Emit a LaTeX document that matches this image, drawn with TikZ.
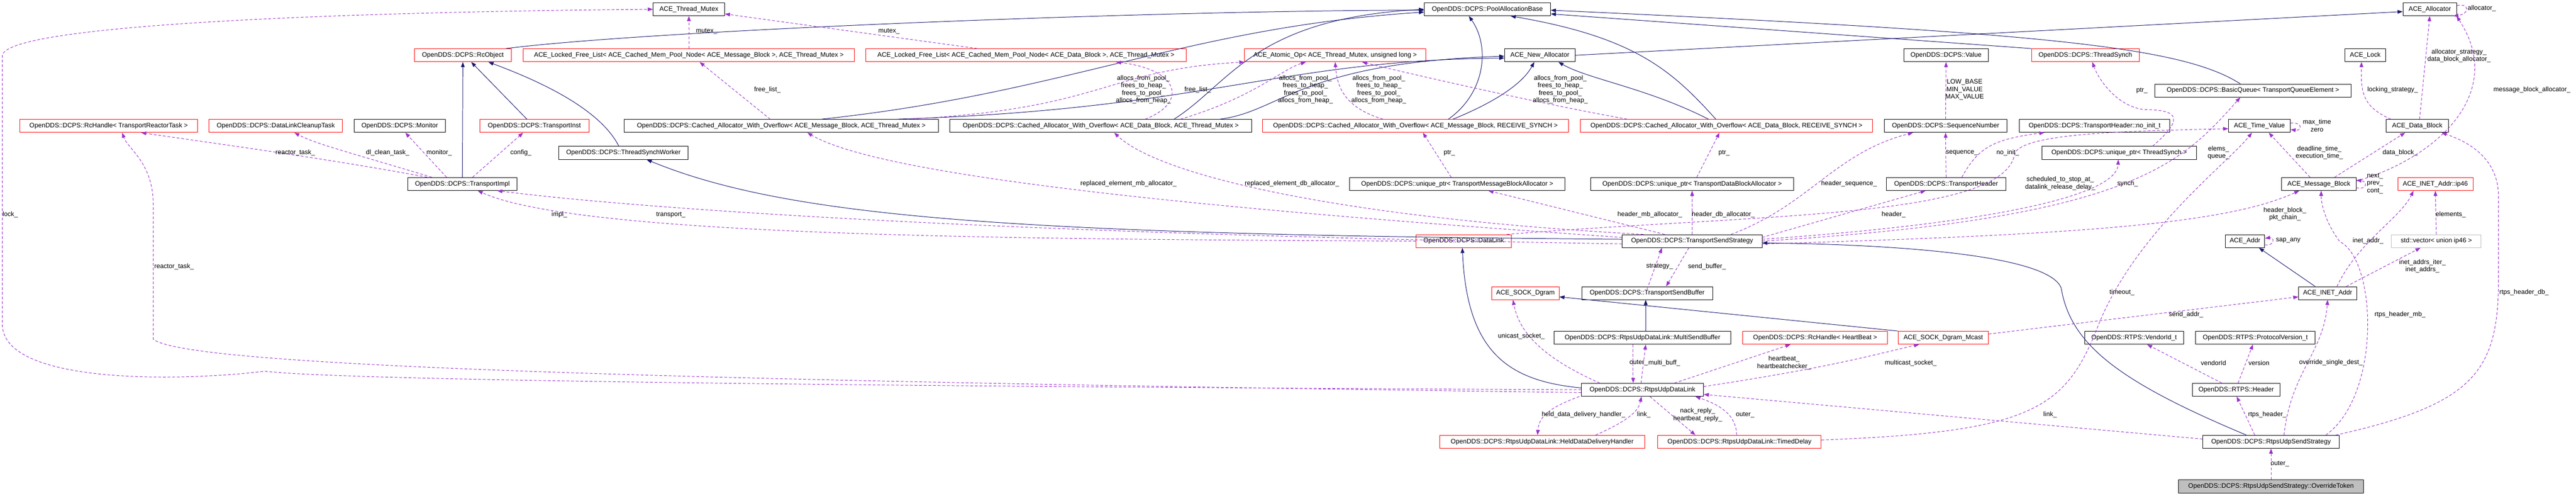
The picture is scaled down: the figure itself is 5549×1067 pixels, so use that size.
\documentclass[tikz,border=0pt]{standalone}
\usepackage{fontspec}
\setmainfont{Liberation Sans}
\usetikzlibrary{arrows.meta}
\definecolor{inhcol}{HTML}{191970}
\definecolor{usecol}{HTML}{9A32CD}
\tikzset{
box/.style={
  draw=black,
  line width=1pt,
  fill=white,
  minimum width=#1,
  minimum height=28pt,
  inner sep=1pt,
  font=\fontsize{14}{16}\selectfont
},
redbox/.style={box=#1, draw=red},
graybox/.style={box=#1, draw=gray!50},
filledbox/.style={box=#1, fill=gray!50},
inh/.style={draw=inhcol, line width=1.1pt, -{Triangle[length=11pt,width=8pt]}},
use/.style={draw=usecol, line width=1.1pt, dash pattern=on 6pt off 4pt, -{Triangle[length=11pt,width=8pt]}},
lbl/.style={font=\fontsize{14}{16}\selectfont, inner sep=0pt, align=center, text=black}
}
\begin{document}
\begin{tikzpicture}[x=1pt,y=-1pt]
\useasboundingbox (0,0) rectangle (5549,1067);
                  % row 0
\node[box=154pt] (ATM) at (1484,20) {ACE\_Thread\_Mutex};
\node[box=272pt] (PAB) at (3204,20) {OpenDDS::DCPS::PoolAllocationBase};
\node[box=116pt] (AAlloc) at (5234,20) {ACE\_Allocator};
                  % row 1
\node[redbox=208pt] (RcObj) at (997,119) {OpenDDS::DCPS::RcObject};
\node[redbox=714pt] (LFLmb) at (1484,119) {ACE\_Locked\_Free\_List< ACE\_Cached\_Mem\_Pool\_Node< ACE\_Message\_Block >, ACE\_Thread\_Mutex >};
\node[redbox=691pt] (LFLdb) at (2210,119) {ACE\_Locked\_Free\_List< ACE\_Cached\_Mem\_Pool\_Node< ACE\_Data\_Block >, ACE\_Thread\_Mutex >};
\node[redbox=390pt] (AtomOp) at (2876,119) {ACE\_Atomic\_Op< ACE\_Thread\_Mutex, unsigned long >};
\node[box=152pt] (NewAlloc) at (3317,119) {ACE\_New\_Allocator};
\node[box=182pt] (Value) at (4192,119) {OpenDDS::DCPS::Value};
\node[redbox=232pt] (TSynch) at (4492,119) {OpenDDS::DCPS::ThreadSynch};
\node[box=87pt] (ALock) at (5095,119) {ACE\_Lock};
                  % row 2
\node[box=423pt] (BQueue) at (4853,195) {OpenDDS::DCPS::BasicQueue< TransportQueueElement >};
                  % row 3
\node[redbox=383pt] (RHtask) at (234,271) {OpenDDS::DCPS::RcHandle< TransportReactorTask >};
\node[redbox=287pt] (DLclean) at (594,271) {OpenDDS::DCPS::DataLinkCleanupTask};
\node[box=196pt] (Monitor) at (861,271) {OpenDDS::DCPS::Monitor};
\node[redbox=235pt] (TInst) at (1151,271) {OpenDDS::DCPS::TransportInst};
\node[box=676pt] (CAmbTM) at (1683,271) {OpenDDS::DCPS::Cached\_Allocator\_With\_Overflow< ACE\_Message\_Block, ACE\_Thread\_Mutex >};
\node[box=650pt] (CAdbTM) at (2371,271) {OpenDDS::DCPS::Cached\_Allocator\_With\_Overflow< ACE\_Data\_Block, ACE\_Thread\_Mutex >};
\node[redbox=659pt] (CAmbRS) at (3049,271) {OpenDDS::DCPS::Cached\_Allocator\_With\_Overflow< ACE\_Message\_Block, RECEIVE\_SYNCH >};
\node[redbox=630pt] (CAdbRS) at (3719,271) {OpenDDS::DCPS::Cached\_Allocator\_With\_Overflow< ACE\_Data\_Block, RECEIVE\_SYNCH >};
\node[box=265pt] (SeqNum) at (4191,271) {OpenDDS::DCPS::SequenceNumber};
\node[box=324pt] (NoInit) at (4512,271) {OpenDDS::DCPS::TransportHeader::no\_init\_t};
\node[box=133pt] (TimeVal) at (4867,271) {ACE\_Time\_Value};
\node[box=134pt] (DBlock) at (5207,271) {ACE\_Data\_Block};
                  % row 4
\node[box=279pt] (TSWorker) at (1343,329) {OpenDDS::DCPS::ThreadSynchWorker};
\node[box=333pt] (UPsynch) at (4565,329) {OpenDDS::DCPS::unique\_ptr< ThreadSynch >};
                  % row 5
\node[box=235pt] (TImpl) at (996,396) {OpenDDS::DCPS::TransportImpl};
\node[box=463pt] (UPmb) at (3139,396) {OpenDDS::DCPS::unique\_ptr< TransportMessageBlockAllocator >};
\node[box=437pt] (UPdb) at (3645,396) {OpenDDS::DCPS::unique\_ptr< TransportDataBlockAllocator >};
\node[box=258pt] (THeader) at (4192,396) {OpenDDS::DCPS::TransportHeader};
\node[box=160pt] (MBlock) at (4995,396) {ACE\_Message\_Block};
\node[redbox=162pt] (Ip46) at (5246,396) {ACE\_INET\_Addr::ip46};
                  % row 6
\node[redbox=205pt] (DLink) at (3153,519) {OpenDDS::DCPS::DataLink};
\node[box=301pt] (TSS) at (3645,519) {OpenDDS::DCPS::TransportSendStrategy};
\node[box=85pt] (AAddr) at (4836,519) {ACE\_Addr};
\node[graybox=193pt] (Vec) at (5248,519) {std::vector< union ip46 >};
                  % row 7
\node[redbox=145pt] (Dgram) at (3286,631) {ACE\_SOCK\_Dgram};
\node[box=282pt] (TSB) at (3548,631) {OpenDDS::DCPS::TransportSendBuffer};
\node[box=125pt] (Inet) at (5014,631) {ACE\_INET\_Addr};
                  % row 8
\node[box=381pt] (MSB) at (3538,727) {OpenDDS::DCPS::RtpsUdpDataLink::MultiSendBuffer};
\node[redbox=312pt] (RHhb) at (3910,727) {OpenDDS::DCPS::RcHandle< HeartBeat >};
\node[redbox=195pt] (Mcast) at (4186,727) {ACE\_SOCK\_Dgram\_Mcast};
\node[box=213pt] (Vendor) at (4597,727) {OpenDDS::RTPS::VendorId\_t};
\node[box=258pt] (ProtoV) at (4858,727) {OpenDDS::RTPS::ProtocolVersion\_t};
                  % row 9
\node[box=263pt] (RUDL) at (3538,839) {OpenDDS::DCPS::RtpsUdpDataLink};
\node[box=188pt] (RHeader) at (4817,839) {OpenDDS::RTPS::Header};
                  % row 10
\node[redbox=441pt] (HDDH) at (3322,951) {OpenDDS::DCPS::RtpsUdpDataLink::HeldDataDeliveryHandler};
\node[redbox=352pt] (TDelay) at (3747,951) {OpenDDS::DCPS::RtpsUdpDataLink::TimedDelay};
\node[box=294pt] (RUSS) at (4892,951) {OpenDDS::DCPS::RtpsUdpSendStrategy};
                  % row 11
\node[filledbox=398pt] (OTok) at (4892,1047) {OpenDDS::DCPS::RtpsUdpSendStrategy::OverrideToken};

                  % inheritance
\draw[inh] ([xshift=93pt]RcObj.north) .. controls (1400,65) and (2500,22) .. ([yshift=-2pt]PAB.west);
\draw[inh] (TImpl.north) -- (RcObj.south);
\draw[inh] ([xshift=-16pt]TInst.north) -- ([xshift=18pt]RcObj.south);
\draw[inh] ([xshift=-10pt]TSWorker.north) .. controls (1290,230) and (1150,170) .. ([xshift=55pt]RcObj.south);
\draw[inh] ([xshift=87pt]CAmbTM.north) .. controls (2300,200) and (2550,60) .. ([yshift=-6pt]PAB.west);
\draw[inh] ([xshift=250pt]CAmbTM.north) .. controls (2600,235) and (2750,130) .. ([yshift=-6pt]NewAlloc.west);
\draw[inh] ([xshift=158pt]CAdbTM.north) .. controls (2650,180) and (2700,40) .. ([yshift=0pt]PAB.west);
\draw[inh] ([xshift=257pt]CAdbTM.north) .. controls (2760,240) and (2800,135) .. ([yshift=-2pt]NewAlloc.west);
\draw[inh] ([xshift=71pt]CAmbRS.north) .. controls (3200,200) and (3210,100) .. ([xshift=-40pt]PAB.south);
\draw[inh] ([xshift=81pt]CAmbRS.north) .. controls (3220,220) and (3280,180) .. ([xshift=-12pt]NewAlloc.south);
\draw[inh] ([xshift=-23pt]CAdbRS.north) .. controls (3600,150) and (3520,80) .. ([xshift=50pt]PAB.south);
\draw[inh] ([xshift=-39pt]CAdbRS.north) .. controls (3550,190) and (3420,170) .. ([xshift=40pt]NewAlloc.south);
\draw[inh] (NewAlloc.east) -- ([yshift=-5pt]AAlloc.west);
\draw[inh] (TSynch.north west) -- ([yshift=-10pt]PAB.east);
\draw[inh] ([xshift=-27pt]BQueue.north) .. controls (4700,100) and (4400,70) .. ([yshift=-2pt]PAB.east);
\draw[inh] ([yshift=4pt]TSS.west) .. controls (2200,505) and (1700,470) .. ([xshift=50pt]TSWorker.south);
\draw[inh] ([yshift=4pt]RUDL.west) .. controls (3250,820) and (3160,760) .. ([xshift=-3pt]DLink.south);
\draw[inh] ([xshift=-53pt]RUSS.north) .. controls (4560,820) and (4460,740) .. (4440,620) .. controls (4410,540) and (4000,525) .. ([yshift=-4pt]TSS.east);
\draw[inh] ([xshift=7pt]MSB.north) -- ([xshift=-3pt]TSB.south);
\draw[inh] (Mcast.north west) -- ([yshift=-8pt]Dgram.east);
\draw[inh] ([xshift=-27pt]Inet.north) -- ([xshift=30pt]AAddr.south);

                  % members: allocators
\draw[use] (LFLmb.north) -- (ATM.south) node[lbl, at={(1522,67)}] {mutex\_};
\draw[use] ([xshift=-105pt]LFLdb.north) -- ([yshift=-10pt]ATM.east) node[lbl, at={(1915,67)}] {mutex\_};
\draw[use] ([xshift=-24pt]CAmbTM.north) -- ([xshift=23pt]LFLmb.south) node[lbl, at={(1653,193)}] {free\_list\_};
\draw[use] ([xshift=96pt]CAdbTM.north) .. controls (2560,220) and (2540,150) .. ([xshift=194pt]LFLdb.south) node[lbl, at={(2580,193)}] {free\_list\_};
\draw[use] ([xshift=271pt]CAmbTM.north) .. controls (2380,235) and (2380,150) .. (AtomOp.south west) node[lbl, at={(2463,193)}] {allocs\_from\_pool\_\\frees\_to\_heap\_\\frees\_to\_pool\_\\allocs\_from\_heap\_};
\draw[use] ([xshift=172pt]CAdbTM.north) .. controls (2700,210) and (2760,150) .. ([xshift=-63pt]AtomOp.south) node[lbl, at={(2812,193)}] {allocs\_from\_pool\_\\frees\_to\_heap\_\\frees\_to\_pool\_\\allocs\_from\_heap\_};
\draw[use] ([xshift=-70pt]CAmbRS.north) .. controls (2890,230) and (2880,180) .. (AtomOp.south) node[lbl, at={(2970,193)}] {allocs\_from\_pool\_\\frees\_to\_heap\_\\frees\_to\_pool\_\\allocs\_from\_heap\_};
\draw[use] ([xshift=-214pt]CAdbRS.north) .. controls (3300,220) and (3000,150) .. ([xshift=58pt]AtomOp.south) node[lbl, at={(3361,193)}] {allocs\_from\_pool\_\\frees\_to\_heap\_\\frees\_to\_pool\_\\allocs\_from\_heap\_};
\draw[use] ([xshift=-13pt]UPmb.north) -- ([xshift=16pt]CAmbRS.south) node[lbl, at={(3122,329)}] {ptr\_};
\draw[use] ([xshift=10pt]UPdb.north) -- ([xshift=-15pt]CAdbRS.south) node[lbl, at={(3714,329)}] {ptr\_};

                  % members: transport
\draw[use] ([xshift=-76pt]TImpl.north) .. controls (700,340) and (400,300) .. ([xshift=70pt]RHtask.south) node[lbl, at={(636,329)}] {reactor\_task\_};
\draw[use] ([xshift=-66pt]TImpl.north) .. controls (760,330) and (680,310) .. ([xshift=40pt]DLclean.south) node[lbl, at={(835,329)}] {dl\_clean\_task\_};
\draw[use] ([xshift=-34pt]TImpl.north) -- ([xshift=12pt]Monitor.south) node[lbl, at={(946,329)}] {monitor\_};
\draw[use] ([xshift=22pt]TImpl.north) -- ([xshift=-24pt]TInst.south) node[lbl, at={(1122,329)}] {config\_};
\draw[use] (DLink.west) .. controls (2200,515) and (1250,510) .. ([xshift=33pt]TImpl.south) node[lbl, at={(1205,462)}] {impl\_};
\draw[use] ([yshift=-6pt]TSS.west) .. controls (2000,500) and (1300,440) .. ([xshift=75pt]TImpl.south) node[lbl, at={(1445,462)}] {transport\_};
\draw[use] ([yshift=8pt]TSS.west) .. controls (2600,450) and (1900,380) .. ([xshift=56pt]CAmbTM.south) node[lbl, at={(2431,395)}] {replaced\_element\_mb\_allocator\_};
\draw[use] ([xshift=-105pt]TSS.north) .. controls (2900,470) and (2500,380) .. ([xshift=29pt]CAdbTM.south) node[lbl, at={(2783,395)}] {replaced\_element\_db\_allocator\_};
\draw[use] ([xshift=-59pt]TSS.north) -- ([xshift=67pt]UPmb.south) node[lbl, at={(3554,462)}] {header\_mb\_allocator\_};
\draw[use] (TSS.north) -- (UPdb.south) node[lbl, at={(3712,462)}] {header\_db\_allocator\_};
\draw[use] ([xshift=84pt]TSS.north) .. controls (3900,440) and (3950,330) .. ([xshift=-70pt]SeqNum.south) node[lbl, at={(3983,395)}] {header\_sequence\_};
\draw[use] ([yshift=8pt]TSS.east) -- ([xshift=-44pt]THeader.south) node[lbl, at={(4079,462)}] {header\_};
\draw[use] ([yshift=4pt]TSS.east) .. controls (4300,480) and (4560,420) .. ([xshift=-2pt]UPsynch.south) node[lbl, at={(4583,395)}] {synch\_};
\draw[use] (TSS.east) .. controls (4600,470) and (4700,350) .. ([xshift=-27pt]BQueue.south) node[lbl, at={(4779,329)}] {elems\_\\queue\_};
\draw[use] ([yshift=-6pt]TSS.east) .. controls (4500,505) and (4800,480) .. ([xshift=-42pt]MBlock.south) node[lbl, at={(4922,461)}] {header\_block\_\\pkt\_chain\_};
\draw[use] ([xshift=-10pt]DLink.north east) .. controls (3800,460) and (4320,470) .. (4340,330) .. controls (4360,285) and (4600,282) .. ([yshift=-6pt]TimeVal.west) node[lbl, at={(4438,395)}] {scheduled\_to\_stop\_at\_\\datalink\_release\_delay\_};
\draw[use] (SeqNum.north) -- (Value.south) node[lbl, at={(4232,193)}] {LOW\_BASE\\MIN\_VALUE\\MAX\_VALUE};
\draw[use] (THeader.north) -- (SeqNum.south) node[lbl, at={(4226,329)}] {sequence\_};
\draw[use] ([xshift=34pt]THeader.north) .. controls (4260,320) and (4290,300) .. ([xshift=-108pt]NoInit.south) node[lbl, at={(4325,329)}] {no\_init\_};
\draw[use] ([xshift=72pt]UPsynch.north) .. controls (4700,260) and (4700,236) .. (4620,236) .. controls (4560,230) and (4520,170) .. ([xshift=15pt]TSynch.south) node[lbl, at={(4614,195)}] {ptr\_};

                  % members: ACE
\draw[use] ([yshift=6pt]TimeVal.east) .. controls (4960,262) and (4960,282) .. ([yshift=-8pt]TimeVal.east) node[lbl, at={(4991,270)}] {max\_time\\zero};
\draw[use] ([yshift=8pt]AAlloc.east) .. controls (5320,6) and (5320,30) .. ([xshift=-8pt]AAlloc.south east) node[lbl, at={(5346,18)}] {allocator\_};
\draw[use] ([xshift=5pt]DBlock.north) -- (AAlloc.south) node[lbl, at={(5297,120)}] {allocator\_strategy\_\\data\_block\_allocator\_};
\draw[use] ([xshift=-57pt]DBlock.north) .. controls (5090,230) and (5085,200) .. ([xshift=-8pt]ALock.south) node[lbl, at={(5154,193)}] {locking\_strategy\_};
\draw[use] ([yshift=6pt]MBlock.east) .. controls (5250,340) and (5400,200) .. ([xshift=-1pt]AAlloc.south east) node[lbl, at={(5454,193)}] {message\_block\_allocator\_};
\draw[use] ([xshift=34pt]MBlock.north) -- ([xshift=-26pt]DBlock.south) node[lbl, at={(5170,329)}] {data\_block\_};
\draw[use] ([xshift=-19pt]MBlock.north) -- ([xshift=20pt]TimeVal.south) node[lbl, at={(4996,329)}] {deadline\_time\_\\execution\_time\_};
\draw[use] ([yshift=-8pt]MBlock.east) .. controls (5100,410) and (5100,390) .. ([yshift=8pt]MBlock.east) node[lbl, at={(5116,395)}] {next\_\\prev\_\\cont\_};
\draw[use] ([yshift=-8pt]AAddr.east) .. controls (4900,530) and (4900,510) .. ([yshift=6pt]AAddr.east) node[lbl, at={(4929,518)}] {sap\_any};
\draw[use] (Vec.north) -- (Ip46.south) node[lbl, at={(5279,462)}] {elements\_};
\draw[use] ([xshift=20pt]Inet.north) .. controls (5080,520) and (5170,470) .. ([xshift=-47pt]Ip46.south) node[lbl, at={(5101,518)}] {inet\_addr\_};
\draw[use] ([xshift=40pt]Inet.north) -- ([xshift=-34pt]Vec.south) node[lbl, at={(5218,573)}] {inet\_addrs\_iter\_\\inet\_addrs\_};

                  % members: rtps
\draw[use] ([yshift=-6pt]TSB.north) -- ([xshift=-65pt]TSS.south) node[lbl, at={(3575,574)}] {strategy\_};
\draw[use] ([xshift=-7pt]TSS.south) -- ([xshift=41pt]TSB.north) node[lbl, at={(3677,574)}] {send\_buffer\_};
\draw[use] ([xshift=-92pt]RUDL.north) .. controls (3300,760) and (3270,700) .. ([xshift=-27pt]Dgram.south) node[lbl, at={(3277,724)}] {unicast\_socket\_};
\draw[use] ([xshift=-20pt]MSB.south) -- ([xshift=-20pt]RUDL.north) node[lbl, at={(3530,781)}] {outer\_};
\draw[use] ([xshift=-3pt]RUDL.north) -- ([xshift=7pt]MSB.south) node[lbl, at={(3585,781)}] {multi\_buff\_};
\draw[use] ([xshift=69pt]RUDL.north) -- ([xshift=-53pt]RHhb.south) node[lbl, at={(3843,781)}] {heartbeat\_\\heartbeatchecker\_};
\draw[use] ([yshift=7pt]RUDL.east) .. controls (3950,790) and (4050,760) .. ([xshift=-52pt]Mcast.south) node[lbl, at={(4116,781)}] {multicast\_socket\_};
\draw[use] ([yshift=8pt]Mcast.east) -- ([yshift=-8pt]Inet.west) node[lbl, at={(4709,677)}] {send\_addr\_};
\draw[use] ([xshift=-31pt]RHeader.north) -- ([xshift=28pt]Vendor.south) node[lbl, at={(4768,781)}] {vendorId};
\draw[use] ([xshift=4pt]RHeader.north) -- ([xshift=-5pt]ProtoV.south) node[lbl, at={(4866,781)}] {version};
\draw[use] ([xshift=-136pt]RUDL.south) .. controls (3330,880) and (3315,900) .. ([xshift=-10pt]HDDH.north) node[lbl, at={(3411,893)}] {held\_data\_delivery\_handler\_};
\draw[use] ([xshift=115pt]HDDH.north) .. controls (3520,900) and (3530,880) .. ([xshift=-2pt]RUDL.south) node[lbl, at={(3541,893)}] {link\_};
\draw[use] ([xshift=16pt]RUDL.south) -- ([xshift=-95pt]TDelay.north) node[lbl, at={(3657,893)}] {nack\_reply\_\\heartbeat\_reply\_};
\draw[use] ([xshift=-6pt]TDelay.north) .. controls (3740,890) and (3700,870) .. ([xshift=114pt]RUDL.south) node[lbl, at={(3759,893)}] {outer\_};
\draw[use] ([yshift=4pt]TDelay.east) .. controls (4380,930) and (4450,880) .. (4520,700) .. controls (4600,500) and (4800,350) .. ([xshift=-16pt]TimeVal.south) node[lbl, at={(4571,630)}] {timeout\_};
\draw[use] ([yshift=6pt]RUSS.west) -- ([yshift=-10pt]RUDL.east) node[lbl, at={(4416,893)}] {link\_};
\draw[use] ([xshift=-35pt]RUSS.north) -- ([xshift=1pt]RHeader.south) node[lbl, at={(4884,893)}] {rtps\_header\_};
\draw[use] ([xshift=28pt]RUSS.north) .. controls (4935,800) and (5005,760) .. ([xshift=0pt]Inet.south) node[lbl, at={(5021,781)}] {override\_single\_dest\_};
\draw[use] ([xshift=118pt]RUSS.north) .. controls (5130,850) and (5120,560) .. (5040,520) .. controls (5010,480) and (5000,440) .. ([xshift=5pt]MBlock.south) node[lbl, at={(5170,677)}] {rtps\_header\_mb\_};
\draw[use] ([xshift=-8pt]RUSS.north east) .. controls (5330,870) and (5382,800) .. (5382,600) -- (5382,420) .. controls (5380,330) and (5300,300) .. ([xshift=-15pt]DBlock.south east) node[lbl, at={(5437,630)}] {rtps\_header\_db\_};
\draw[use] (OTok.north) -- (RUSS.south) node[lbl, at={(4911,999)}] {outer\_};

                  % members: long way round
\draw[use] (RUDL.west) .. controls (1500,830) and (700,815) .. (571,799) .. controls (400,820) and (10,830) .. (5,700) -- (5,120) .. controls (10,50) and (800,25) .. (ATM.west) node[lbl, at={(22,462)}] {lock\_};
\draw[use] ([yshift=-6pt]RUDL.west) .. controls (1500,820) and (400,790) .. (330,730) -- (330,440) .. controls (330,350) and (275,320) .. ([xshift=29pt]RHtask.south) node[lbl, at={(375,574)}] {reactor\_task\_};
\end{tikzpicture}
\end{document}
